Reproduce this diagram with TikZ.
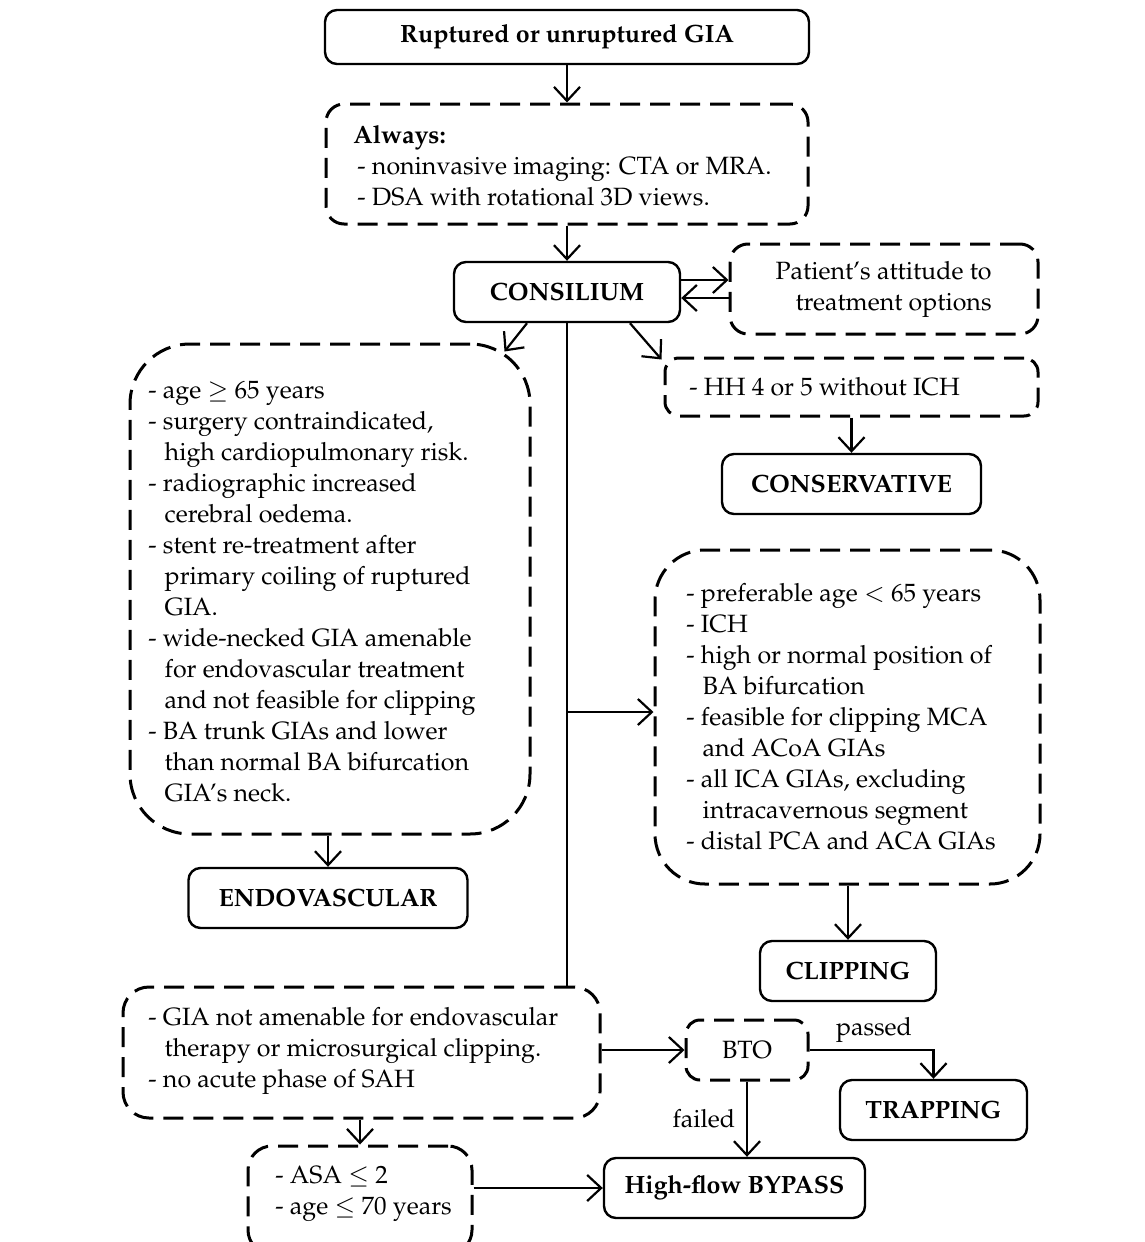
\documentclass[tikz,border=0pt]{standalone}
\usepackage[T1]{fontenc}
\usepackage{mathpazo}
\usetikzlibrary{arrows.meta,calc}
\newcommand{\myind}{\phantom{-}\hspace*{4pt}}
\begin{document}
\begin{tikzpicture}[x=0.5pt,y=-0.5pt,
  every node/.style={font=\fontsize{12.5}{15.5}\selectfont},
  sbox/.style={draw,line width=1.2pt,rounded corners=6pt,inner sep=0pt,
    font=\fontsize{12.5}{15.5}\selectfont\bfseries},
  dbox/.style={draw,line width=1.5pt,dash pattern=on 10pt off 5pt,rounded corners=9pt,inner sep=0pt},
  txt/.style={align=left,anchor=west,inner sep=0pt},
  arr/.style={line width=1.1pt,-{Straight Barb[length=7pt,width=13pt]}},
  plainline/.style={line width=1.1pt}]
\useasboundingbox (0,0) rectangle (1145,1242);

% boxes
\node[sbox,minimum width=242pt,minimum height=27pt] (top) at (567,37) {Ruptured or unruptured GIA};
\node[dbox,minimum width=241pt,minimum height=60pt] (always) at (567,164) {};
\node[txt] (always-t) at (353,166) {\textbf{Always:}\\\hspace*{2pt}- noninvasive imaging: CTA or MRA.\\\hspace*{2pt}- DSA with rotational 3D views.};
\node[sbox,minimum width=113pt,minimum height=30pt] (cons) at (567,292) {CONSILIUM};
\node[dbox,minimum width=154pt,minimum height=45pt] (pat) at (884,289) {};
\node[align=right,anchor=east,inner sep=0pt] (pat-t) at (992,289) {Patient's attitude to\\treatment options};
\node[dbox,rounded corners=7pt,minimum width=186.5pt,minimum height=29pt] (hh) at (851.5,387) {};
\node[txt] (hh-t) at (689,387) {- HH 4 or 5 without ICH};
\node[sbox,minimum width=129.5pt,minimum height=30pt] (conserv) at (851.5,484) {CONSERVATIVE};

\node[dbox,rounded corners=30pt,minimum width=200pt,minimum height=245pt] (lbox) at (330,589) {};
\node[txt] (lbox-t) at (148,592) {- age $\geq$ 65 years\\
- surgery contraindicated,\\
\myind high cardiopulmonary risk.\\
- radiographic increased\\
\myind cerebral oedema.\\
- stent re-treatment after\\
\myind primary coiling of ruptured\\
\myind GIA.\\
- wide-necked GIA amenable\\
\myind for endovascular treatment\\
\myind and not feasible for clipping\\
- BA trunk GIAs and lower\\
\myind than normal BA bifurcation\\
\myind GIA's neck.};
\node[sbox,minimum width=139.5pt,minimum height=30pt] (endo) at (328,898) {ENDOVASCULAR};

\node[dbox,rounded corners=25pt,minimum width=192.5pt,minimum height=167pt] (rbox) at (847.5,717) {};
\node[txt] (rbox-t) at (686,717) {- preferable age $<$ 65 years\\
- ICH\\
- high or normal position of\\
\myind BA bifurcation\\
- feasible for clipping MCA\\
\myind and ACoA GIAs\\
- all ICA GIAs, excluding\\
\myind intracavernous segment\\
- distal PCA and ACA GIAs};
\node[sbox,minimum width=88pt,minimum height=30pt] (clip) at (848,971) {CLIPPING};

\node[dbox,rounded corners=13pt,minimum width=238.5pt,minimum height=65.5pt] (gia) at (361.5,1052.5) {};
\node[txt] (gia-t) at (148,1051) {- GIA not amenable for endovascular\\
\myind therapy or microsurgical clipping.\\
- no acute phase of SAH};
\node[dbox,rounded corners=7pt,minimum width=61pt,minimum height=30pt] (bto) at (747,1050) {BTO};
\node[sbox,minimum width=93.5pt,minimum height=30pt] (trap) at (933.5,1110) {TRAPPING};
\node[sbox,minimum width=130.5pt,minimum height=30pt] (bypass) at (734.5,1188) {High-flow BYPASS};
\node[dbox,rounded corners=12pt,minimum width=112pt,minimum height=54pt] (asa) at (360,1200) {};
\node[txt] (asa-t) at (275,1194) {- ASA $\leq$ 2\\- age $\leq$ 70 years};

% connectors
\draw[arr] (top.south) -- (always.north);
\draw[arr] (always.south) -- (cons.north);
\draw[arr] (cons.east |- 0,280) -- (pat.west |- 0,280);
\draw[arr] (pat.west |- 0,298) -- (cons.east |- 0,298);
\draw[arr] (cons.south -| 527,0) -- ($(lbox.north east)+(-27,9)$);
\draw[arr] (cons.south -| 630,0) -- ($(hh.north west)+(-2,3)$);
\draw[plainline] (cons.south) -- (cons.south |- gia.north);
\draw[arr] (cons.south |- 0,712) -- (rbox.west |- 0,712);
\draw[arr] (hh.south -| conserv.north) -- (conserv.north);
\draw[arr] (lbox.south -| endo.north) -- (endo.north);
\draw[arr] (rbox.south -| clip.north) -- (clip.north);
\draw[arr] (gia.east |- bto.west) -- (bto.west);
\draw[arr] (bto.east) -| node[above=0pt,pos=0.26] (passed) {passed} (trap.north);
\draw[arr] (bto.south) -- node[left=2pt] (failed) {failed} (bto.south |- bypass.north);
\draw[arr] (gia.south -| asa.north) -- (asa.north);
\draw[arr] (asa.east |- bypass.west) -- (bypass.west);
\end{tikzpicture}
\end{document}
